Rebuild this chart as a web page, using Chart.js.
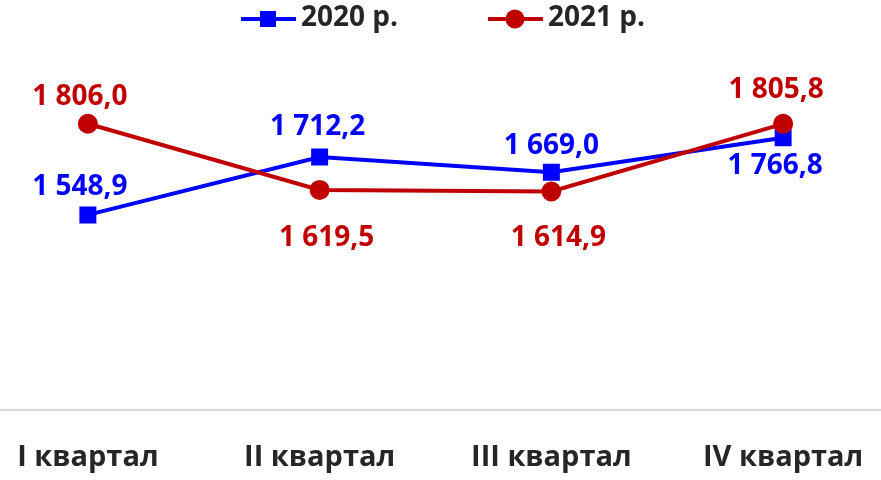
<!DOCTYPE html>
<html>
<head>
<meta charset="utf-8">
<script src="https://cdn.jsdelivr.net/npm/chart.js@4"></script>
<style>
  html, body { margin: 0; padding: 0; background: #fff; overflow: hidden; }
  /* plot area in the picture is wider than the frame, so the canvas is shifted left */
  #wrap { position: absolute; left: -28px; top: 0; width: 927px; height: 480px; }
</style>
</head>
<body>
<div id="wrap"><canvas id="chart"></canvas></div>
<script>
/* ── Data ── */
const quarters = ['I квартал', 'II квартал', 'III квартал', 'IV квартал'];
const values2020 = [1548.9, 1712.2, 1669.0, 1766.8];
const values2021 = [1806.0, 1619.5, 1614.9, 1805.8];
const seriesNames = ['2020 р.', '2021 р.'];

const BLUE = '#0000ff';
const RED = '#c00000';

// label offsets from each point (px), tuned to the picture
const labelShift = {
  '2020 р.': { dx: [-8, -2, 0, -8], dy: [-28, -30, -26, 28] },
  '2021 р.': { dx: [-8, 7, 7, -7], dy: [-27, 48, 47, -34] }
};

const fmt = v => {
  const [int, dec] = v.toFixed(1).split('.');
  return int.replace(/\B(?=(\d{3})+(?!\d))/g, ' ') + ',' + dec;
};

/* ── Data labels plugin ── */
const valueLabels = {
  id: 'valueLabels',
  afterDatasetsDraw(chart) {
    const ctx = chart.ctx;
    ctx.save();
    ctx.font = 'bold 28px "Open Sans"';
    ctx.textAlign = 'center';
    ctx.textBaseline = 'middle';
    chart.data.datasets.forEach((ds, i) => {
      const meta = chart.getDatasetMeta(i);
      const shift = labelShift[ds.label];
      ctx.fillStyle = ds.borderColor;
      meta.data.forEach((pt, j) => {
        ctx.fillText(fmt(ds.data[j]), pt.x + shift.dx[j], pt.y + shift.dy[j]);
      });
    });
    ctx.restore();
  }
};

/* ── Legend (line + marker) ── */
const lineLegend = {
  id: 'lineLegend',
  afterDraw(chart) {
    const ctx = chart.ctx;
    const off = 28; // canvas is shifted left by this much
    const items = [
      { text: seriesNames[0], color: BLUE, style: 'rect', x: 241 + off },
      { text: seriesNames[1], color: RED, style: 'circle', x: 488 + off }
    ];
    const y = 19;
    ctx.save();
    items.forEach(it => {
      ctx.strokeStyle = it.color;
      ctx.fillStyle = it.color;
      ctx.lineWidth = 4;
      ctx.beginPath();
      ctx.moveTo(it.x, y);
      ctx.lineTo(it.x + 55, y);
      ctx.stroke();
      const cx = it.x + 27;
      if (it.style === 'rect') {
        ctx.fillRect(cx - 8, y - 8, 16, 16);
      } else {
        ctx.beginPath();
        ctx.arc(cx, y, 9.5, 0, Math.PI * 2);
        ctx.fill();
      }
      ctx.fillStyle = '#262626';
      ctx.font = 'bold 28px "Open Sans"';
      ctx.textAlign = 'left';
      ctx.textBaseline = 'middle';
      ctx.fillText(it.text, it.x + 60, y - 1);
    });
    ctx.restore();
  }
};

new Chart(document.getElementById('chart'), {
  type: 'line',
  data: {
    labels: quarters,
    datasets: [
      {
        label: seriesNames[1],
        data: values2021,
        borderColor: RED,
        backgroundColor: RED,
        borderWidth: 4,
        pointStyle: 'circle',
        pointRadius: 10,
        pointBorderWidth: 0,
        order: 0
      },
      {
        label: seriesNames[0],
        data: values2020,
        borderColor: BLUE,
        backgroundColor: BLUE,
        borderWidth: 4,
        pointStyle: 'rect',
        pointRadius: 12,
        pointBorderWidth: 0,
        order: 1
      }
    ]
  },
  options: {
    responsive: true,
    maintainAspectRatio: false,
    animation: false,
    layout: { autoPadding: false, padding: { top: 55, left: 0, right: 0, bottom: 0 } },
    plugins: {
      legend: { display: false },
      tooltip: { enabled: false }
    },
    scales: {
      x: {
        offset: true,
        grid: { display: false, drawTicks: false },
        border: { display: true, color: '#d9d9d9', width: 2 },
        ticks: {
          color: '#262626',
          padding: 31,
          maxRotation: 0,
          font: { family: 'Open Sans', size: 29, weight: 'bold' }
        },
        afterFit(scale) {
          scale.height = 70.5;
          scale.paddingLeft = 0;
          scale.paddingRight = 0;
        }
      },
      y: {
        display: false,
        min: 1000,
        max: 2000
      }
    }
  },
  plugins: [valueLabels, lineLegend]
});
</script>
</body>
</html>
